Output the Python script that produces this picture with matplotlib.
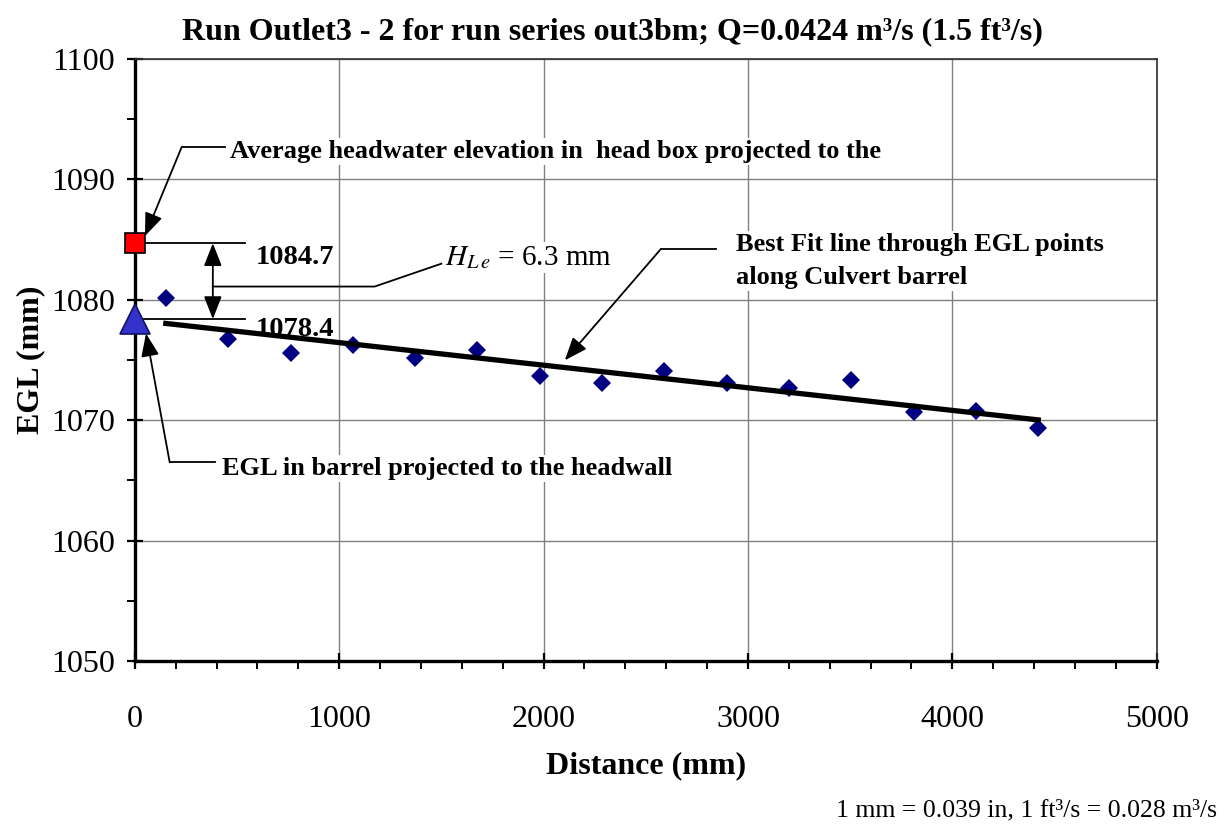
import numpy as np
import matplotlib
matplotlib.use("Agg")
import matplotlib.pyplot as plt
from matplotlib.ticker import MultipleLocator

plt.rcParams["font.family"] = ["Liberation Serif", "DejaVu Serif"]
plt.rcParams["mathtext.fontset"] = "stix"

# EGL points along the culvert barrel
distance_mm = [152, 457, 762, 1067, 1372, 1676, 1981, 2286, 2591, 2896, 3200, 3505, 3810, 4115, 4420]
egl_mm = [1080.15, 1076.74, 1075.58, 1076.25, 1075.17, 1075.83, 1073.67, 1073.09,
          1074.09, 1073.09, 1072.67, 1073.34, 1070.68, 1070.76, 1069.35]

# headwater and projected values at the headwall
headwall_x = 0
headwater_elev = 1084.7
projected_egl = 1078.4
head_loss = 6.3

# best fit through barrel points
slope, intercept = np.polyfit(distance_mm, egl_mm, 1)
fit_x = np.array([distance_mm[0], distance_mm[-1]])
fit_y = slope * fit_x + intercept

fig = plt.figure(figsize=(12.25, 8.25), dpi=100)
ax = fig.add_axes([0.110, 0.1988, 0.8343, 0.7297])

ax.grid(True, which="major", color="#808080", linewidth=1, zorder=0)
ax.set_axisbelow(True)

ax.plot(distance_mm, egl_mm, linestyle="none", marker="D", markersize=9,
        color="#000080", markeredgewidth=0, zorder=3)
ax.plot(fit_x, fit_y, color="black", linewidth=3.8, zorder=4)
ax.plot(headwall_x, headwater_elev, marker="s", markersize=15, color="#ff0000",
        markeredgecolor="black", markeredgewidth=1.2, clip_on=False, zorder=6)
ax.plot(headwall_x, projected_egl, marker="^", markersize=21, color="#3333cc",
        markeredgecolor="#101060", markeredgewidth=1.2, clip_on=False, zorder=6)

ax.set_xlim(0, 5000)
ax.set_ylim(1050, 1100)
ax.xaxis.set_major_locator(MultipleLocator(1000))
ax.xaxis.set_minor_locator(MultipleLocator(200))
ax.yaxis.set_major_locator(MultipleLocator(10))
ax.yaxis.set_minor_locator(MultipleLocator(5))
ax.tick_params(which="major", direction="inout", length=12, width=1.6, labelsize=23)
ax.tick_params(which="minor", direction="out", length=6, width=1.4)
ax.tick_params(axis="x", which="major", pad=26)
ax.tick_params(axis="y", which="major", pad=8)

for side in ["left", "bottom"]:
    ax.spines[side].set_linewidth(2.4)
for side in ["top", "right"]:
    ax.spines[side].set_linewidth(1.2)
    ax.spines[side].set_color("#303030")

ax.set_xlabel("Distance (mm)", fontsize=23, fontweight="bold")
ax.set_ylabel("EGL (mm)", fontsize=23, fontweight="bold")
ax.xaxis.set_label_coords(0.5, -0.15)
ax.yaxis.set_label_coords(-0.088, 0.5)

fig.text(0.5, 0.962, "Run Outlet3 - 2 for run series out3bm; Q=0.0424 m³/s (1.5 ft³/s)",
         ha="center", va="center", fontsize=23, fontweight="bold")

white = dict(facecolor="white", edgecolor="none", pad=1.5)
arrow = dict(arrowstyle="-|>,head_length=1.4,head_width=0.55", color="black",
             linewidth=1.3, shrinkA=0, shrinkB=0)
lw = 1.3

# headwater annotation
ax.plot([230, 440], [1092.7, 1092.7], color="black", linewidth=lw, zorder=5)
ax.annotate("", xy=(headwall_x + 50, headwater_elev + 0.6), xytext=(230, 1092.7),
            arrowprops=arrow, zorder=5, annotation_clip=False)
ax.text(465, 1092.3, "Average headwater elevation in  head box projected to the",
        fontsize=19, fontweight="bold", va="center", ha="left", bbox=white, zorder=5)

# elevation labels and head loss
ax.plot([headwall_x, 540], [headwater_elev, headwater_elev], color="black", linewidth=lw, zorder=5)
ax.plot([headwall_x, 540], [projected_egl, projected_egl], color="black", linewidth=lw, zorder=5)
ax.text(590, headwater_elev - 1.15, f"{headwater_elev:.1f}", fontsize=20.5,
        fontweight="bold", va="center", ha="left", zorder=5)
ax.text(590, projected_egl - 0.85, f"{projected_egl:.1f}", fontsize=20.5,
        fontweight="bold", va="center", ha="left", zorder=3)
ax.annotate("", xy=(382, projected_egl), xytext=(382, headwater_elev),
            arrowprops=dict(arrowstyle="<|-|>,head_length=1.4,head_width=0.55",
                            color="black", linewidth=lw, shrinkA=0, shrinkB=0), zorder=5)
ax.plot([382, 1174, 1500], [1081.1, 1081.1, 1083.0], color="black", linewidth=lw, zorder=5)
ax.text(1517, headwater_elev - 1.2, r"$H_{L\,e}$" + f" = {head_loss} mm", fontsize=21,
        va="center", ha="left", bbox=white, zorder=5)

# best fit annotation
ax.plot([2573, 2843], [1084.2, 1084.2], color="black", linewidth=lw, zorder=5)
ax.annotate("", xy=(2104, slope * 2104 + intercept + 0.6), xytext=(2573, 1084.2),
            arrowprops=arrow, zorder=5)
ax.text(2940, 1083.2, "Best Fit line through EGL points\nalong Culvert barrel",
        fontsize=19, fontweight="bold", va="center", ha="left", linespacing=1.55,
        bbox=white, zorder=5)

# projected EGL annotation
ax.plot([171, 391], [1066.5, 1066.5], color="black", linewidth=lw, zorder=5)
ax.annotate("", xy=(headwall_x + 55, projected_egl - 1.2), xytext=(171, 1066.5),
            arrowprops=arrow, zorder=5, annotation_clip=False)
ax.text(426, 1066.0, "EGL in barrel projected to the headwall",
        fontsize=19, fontweight="bold", va="center", ha="left", bbox=white, zorder=5)

fig.text(0.9935, 0.004, "1 mm = 0.039 in, 1 ft³/s = 0.028 m³/s",
         ha="right", va="bottom", fontsize=18.5)

plt.savefig("out.png", dpi=100)
